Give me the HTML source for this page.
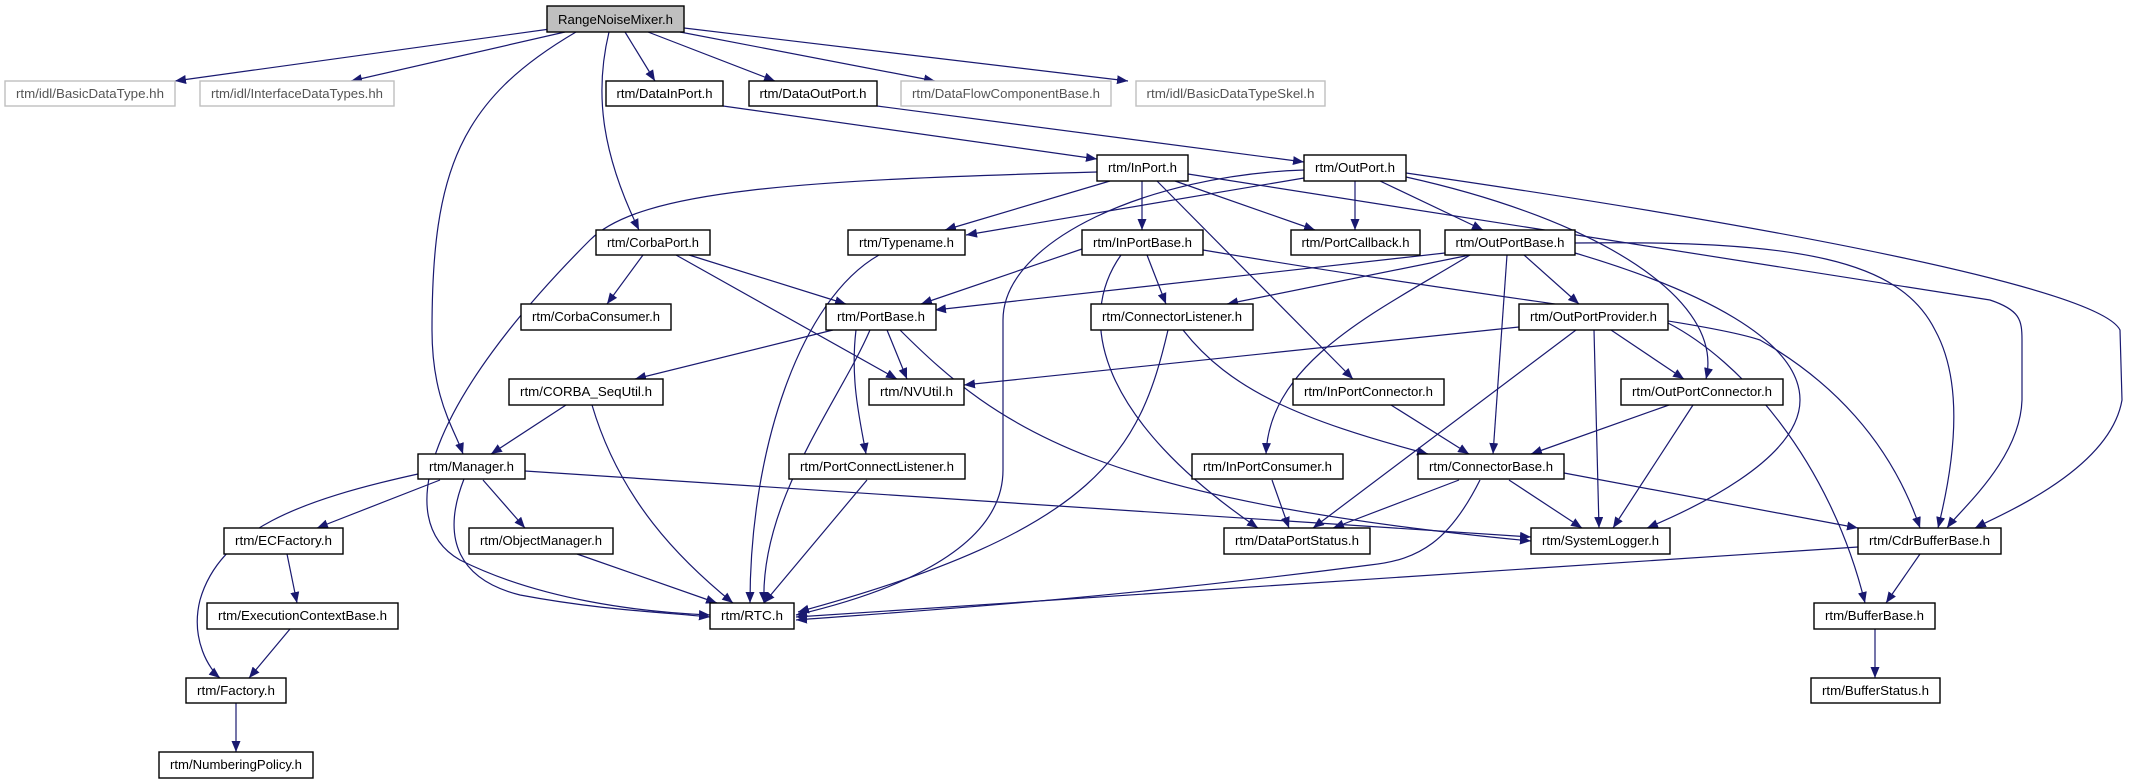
<!DOCTYPE html>
<html><head><meta charset="utf-8"><style>
html,body{margin:0;padding:0;background:#fff;}
svg{display:block;}
text{font-family:"Liberation Sans Narrow","Liberation Sans",sans-serif;font-size:13px;text-anchor:middle;}
.n{fill:#fff;stroke:#000;stroke-width:1.4;}
.g{fill:#fff;stroke:#bfbfbf;stroke-width:1.4;}
.e{fill:none;stroke:#191970;stroke-width:1.2;marker-end:url(#a);}
</style></head><body>
<svg width="2131" height="784" viewBox="0 0 2131 784" xmlns="http://www.w3.org/2000/svg">
<defs><marker id="a" markerUnits="userSpaceOnUse" markerWidth="12" markerHeight="10" refX="11" refY="4.5" orient="auto"><path d="M0,0 L11,4.5 L0,9 z" fill="#191970"/></marker></defs>
<g>
<path class="e" d="M550 29 L175 81"/>
<path class="e" d="M565 32 L351 81"/>
<path class="e" d="M625 32 L655 81"/>
<path class="e" d="M648 32 L775 81"/>
<path class="e" d="M680 32 L935 81"/>
<path class="e" d="M684 28 L1128 81"/>
<path class="e" d="M576 32 C460 100 432 170 432 330 C432 400 455 430 463 454"/>
<path class="e" d="M609 32 C595 90 600 150 639 230"/>
<path class="e" d="M723 106 L1097 159"/>
<path class="e" d="M877 106 L1304 162"/>
<path class="e" d="M1097 172 C800 180 640 190 590 240 C430 400 390 520 460 560 C540 600 640 612 710 615"/>
<path class="e" d="M464 479 C440 540 460 580 520 595 C600 610 660 612 710 617"/>
<path class="e" d="M1110 181 L945 230"/>
<path class="e" d="M1304 178 L966 235"/>
<path class="e" d="M1304 170 C1150 175 1003 240 1003 320 L1003 470 C1003 560 860 600 796 615"/>
<path class="e" d="M1142 181 L1142 230"/>
<path class="e" d="M1175 181 L1315 230"/>
<path class="e" d="M1157 181 L1353 379"/>
<path class="e" d="M1188 174 L1990 300 C2020 310 2022 320 2022 340 L2022 400 C2020 460 1960 510 1947 528"/>
<path class="e" d="M1406 173 C1800 230 2100 290 2120 330 L2122 400 C2110 470 2000 515 1975 528"/>
<path class="e" d="M1575 243 C1800 240 1900 260 1935 330 C1968 390 1950 480 1938 528"/>
<path class="e" d="M1575 253 C1700 290 1800 340 1800 400 C1800 460 1690 510 1647 528"/>
<path class="e" d="M1507 255 L1493 454"/>
<path class="e" d="M1470 255 C1380 310 1270 360 1266 454"/>
<path class="e" d="M1524 255 L1579 304"/>
<path class="e" d="M1470 255 L1227 304"/>
<path class="e" d="M1445 253 L935 310"/>
<path class="e" d="M1355 181 L1355 230"/>
<path class="e" d="M1380 181 L1483 230"/>
<path class="e" d="M1406 177 C1600 220 1725 300 1706 379"/>
<path class="e" d="M1082 249 L921 304"/>
<path class="e" d="M1147 255 L1166 304"/>
<path class="e" d="M1121 255 C1075 320 1100 420 1258 528"/>
<path class="e" d="M1203 250 C1500 300 1700 320 1760 340 C1830 380 1890 440 1920 528"/>
<path class="e" d="M643 255 L607 304"/>
<path class="e" d="M689 255 L846 304"/>
<path class="e" d="M676 255 L897 379"/>
<path class="e" d="M833 330 L635 379"/>
<path class="e" d="M887 330 L907 379"/>
<path class="e" d="M870 330 C840 400 760 500 764 603"/>
<path class="e" d="M856 330 C850 380 860 420 866 454"/>
<path class="e" d="M900 330 C1000 430 1100 500 1531 541"/>
<path class="e" d="M879 255 C800 300 750 450 750 603"/>
<path class="e" d="M1168 330 C1140 450 1100 530 798 612"/>
<path class="e" d="M1183 330 C1230 390 1300 420 1428 454"/>
<path class="e" d="M1519 327 L964 385"/>
<path class="e" d="M1611 330 L1684 379"/>
<path class="e" d="M1594 330 L1599 528"/>
<path class="e" d="M1576 330 L1313 528"/>
<path class="e" d="M1668 323 C1740 360 1830 460 1865 603"/>
<path class="e" d="M566 405 L491 454"/>
<path class="e" d="M592 405 C620 500 680 560 733 603"/>
<path class="e" d="M1391 405 L1469 454"/>
<path class="e" d="M1669 405 L1531 454"/>
<path class="e" d="M1693 405 L1613 528"/>
<path class="e" d="M525 471 L1531 537"/>
<path class="e" d="M440 480 L317 528"/>
<path class="e" d="M483 480 L525 528"/>
<path class="e" d="M418 474 C300 500 220 530 200 600 C190 640 210 670 220 678"/>
<path class="e" d="M867 480 L764 603"/>
<path class="e" d="M1272 480 L1289 528"/>
<path class="e" d="M1459 480 L1333 528"/>
<path class="e" d="M1509 480 L1582 528"/>
<path class="e" d="M1564 473 L1858 528"/>
<path class="e" d="M1480 480 C1450 540 1420 560 1370 565 C1100 600 900 612 796 620"/>
<path class="e" d="M1858 547 L796 617"/>
<path class="e" d="M1920 554 L1886 603"/>
<path class="e" d="M1875 629 L1875 678"/>
<path class="e" d="M287 554 L297 603"/>
<path class="e" d="M290 629 L249 678"/>
<path class="e" d="M577 554 L717 603"/>
<path class="e" d="M236 703 L236 752"/>
</g>
<g>
<rect x="547" y="6" width="137" height="26" fill="#bfbfbf" stroke="#000" stroke-width="1.4"/><text x="615.5" y="24" textLength="115" lengthAdjust="spacingAndGlyphs">RangeNoiseMixer.h</text>
<rect class="g" x="5" y="81" width="170" height="25"/><text x="90" y="98" fill="#555" textLength="148" lengthAdjust="spacingAndGlyphs">rtm/idl/BasicDataType.hh</text>
<rect class="g" x="200" y="81" width="194" height="25"/><text x="297" y="98" fill="#555" textLength="172" lengthAdjust="spacingAndGlyphs">rtm/idl/InterfaceDataTypes.hh</text>
<rect class="n" x="606" y="81" width="117" height="25"/><text x="664.5" y="98" textLength="96" lengthAdjust="spacingAndGlyphs">rtm/DataInPort.h</text>
<rect class="n" x="749" y="81" width="128" height="25"/><text x="813" y="98" textLength="107" lengthAdjust="spacingAndGlyphs">rtm/DataOutPort.h</text>
<rect class="g" x="901" y="81" width="210" height="25"/><text x="1006" y="98" fill="#555" textLength="188" lengthAdjust="spacingAndGlyphs">rtm/DataFlowComponentBase.h</text>
<rect class="g" x="1136" y="81" width="189" height="25"/><text x="1230.5" y="98" fill="#555" textLength="168" lengthAdjust="spacingAndGlyphs">rtm/idl/BasicDataTypeSkel.h</text>
<rect class="n" x="1097" y="155" width="91" height="26"/><text x="1142.5" y="172" textLength="69" lengthAdjust="spacingAndGlyphs">rtm/InPort.h</text>
<rect class="n" x="1304" y="155" width="102" height="26"/><text x="1355" y="172" textLength="80" lengthAdjust="spacingAndGlyphs">rtm/OutPort.h</text>
<rect class="n" x="596" y="230" width="114" height="25"/><text x="653" y="247" textLength="92" lengthAdjust="spacingAndGlyphs">rtm/CorbaPort.h</text>
<rect class="n" x="848" y="230" width="117" height="25"/><text x="906.5" y="247" textLength="95" lengthAdjust="spacingAndGlyphs">rtm/Typename.h</text>
<rect class="n" x="1082" y="230" width="121" height="25"/><text x="1142.5" y="247" textLength="99" lengthAdjust="spacingAndGlyphs">rtm/InPortBase.h</text>
<rect class="n" x="1291" y="230" width="129" height="25"/><text x="1355.5" y="247" textLength="108" lengthAdjust="spacingAndGlyphs">rtm/PortCallback.h</text>
<rect class="n" x="1445" y="230" width="130" height="25"/><text x="1510" y="247" textLength="109" lengthAdjust="spacingAndGlyphs">rtm/OutPortBase.h</text>
<rect class="n" x="521" y="304" width="150" height="26"/><text x="596" y="321" textLength="128" lengthAdjust="spacingAndGlyphs">rtm/CorbaConsumer.h</text>
<rect class="n" x="826" y="304" width="110" height="26"/><text x="881" y="321" textLength="88" lengthAdjust="spacingAndGlyphs">rtm/PortBase.h</text>
<rect class="n" x="1091" y="304" width="162" height="26"/><text x="1172" y="321" textLength="140" lengthAdjust="spacingAndGlyphs">rtm/ConnectorListener.h</text>
<rect class="n" x="1519" y="304" width="149" height="26"/><text x="1593.5" y="321" textLength="127" lengthAdjust="spacingAndGlyphs">rtm/OutPortProvider.h</text>
<rect class="n" x="509" y="379" width="154" height="26"/><text x="586" y="396" textLength="132" lengthAdjust="spacingAndGlyphs">rtm/CORBA_SeqUtil.h</text>
<rect class="n" x="869" y="379" width="95" height="26"/><text x="916.5" y="396" textLength="73" lengthAdjust="spacingAndGlyphs">rtm/NVUtil.h</text>
<rect class="n" x="1293" y="379" width="151" height="26"/><text x="1368.5" y="396" textLength="129" lengthAdjust="spacingAndGlyphs">rtm/InPortConnector.h</text>
<rect class="n" x="1621" y="379" width="162" height="26"/><text x="1702" y="396" textLength="140" lengthAdjust="spacingAndGlyphs">rtm/OutPortConnector.h</text>
<rect class="n" x="418" y="454" width="107" height="25"/><text x="471.5" y="471" textLength="85" lengthAdjust="spacingAndGlyphs">rtm/Manager.h</text>
<rect class="n" x="789" y="454" width="176" height="25"/><text x="877" y="471" textLength="154" lengthAdjust="spacingAndGlyphs">rtm/PortConnectListener.h</text>
<rect class="n" x="1192" y="454" width="151" height="25"/><text x="1267.5" y="471" textLength="129" lengthAdjust="spacingAndGlyphs">rtm/InPortConsumer.h</text>
<rect class="n" x="1418" y="454" width="146" height="25"/><text x="1491" y="471" textLength="124" lengthAdjust="spacingAndGlyphs">rtm/ConnectorBase.h</text>
<rect class="n" x="224" y="528" width="119" height="26"/><text x="283.5" y="545" textLength="97" lengthAdjust="spacingAndGlyphs">rtm/ECFactory.h</text>
<rect class="n" x="469" y="528" width="144" height="26"/><text x="541" y="545" textLength="122" lengthAdjust="spacingAndGlyphs">rtm/ObjectManager.h</text>
<rect class="n" x="1224" y="528" width="146" height="26"/><text x="1297" y="545" textLength="124" lengthAdjust="spacingAndGlyphs">rtm/DataPortStatus.h</text>
<rect class="n" x="1531" y="528" width="139" height="26"/><text x="1600.5" y="545" textLength="117" lengthAdjust="spacingAndGlyphs">rtm/SystemLogger.h</text>
<rect class="n" x="1858" y="528" width="143" height="26"/><text x="1929.5" y="545" textLength="121" lengthAdjust="spacingAndGlyphs">rtm/CdrBufferBase.h</text>
<rect class="n" x="207" y="603" width="191" height="26"/><text x="302.5" y="620" textLength="169" lengthAdjust="spacingAndGlyphs">rtm/ExecutionContextBase.h</text>
<rect class="n" x="710" y="603" width="84" height="26"/><text x="752" y="620" textLength="62" lengthAdjust="spacingAndGlyphs">rtm/RTC.h</text>
<rect class="n" x="1814" y="603" width="121" height="26"/><text x="1874.5" y="620" textLength="99" lengthAdjust="spacingAndGlyphs">rtm/BufferBase.h</text>
<rect class="n" x="186" y="678" width="100" height="25"/><text x="236" y="695" textLength="78" lengthAdjust="spacingAndGlyphs">rtm/Factory.h</text>
<rect class="n" x="1811" y="678" width="129" height="25"/><text x="1875.5" y="695" textLength="107" lengthAdjust="spacingAndGlyphs">rtm/BufferStatus.h</text>
<rect class="n" x="159" y="752" width="154" height="26"/><text x="236" y="769" textLength="132" lengthAdjust="spacingAndGlyphs">rtm/NumberingPolicy.h</text>
</g>
</svg>
</body></html>
